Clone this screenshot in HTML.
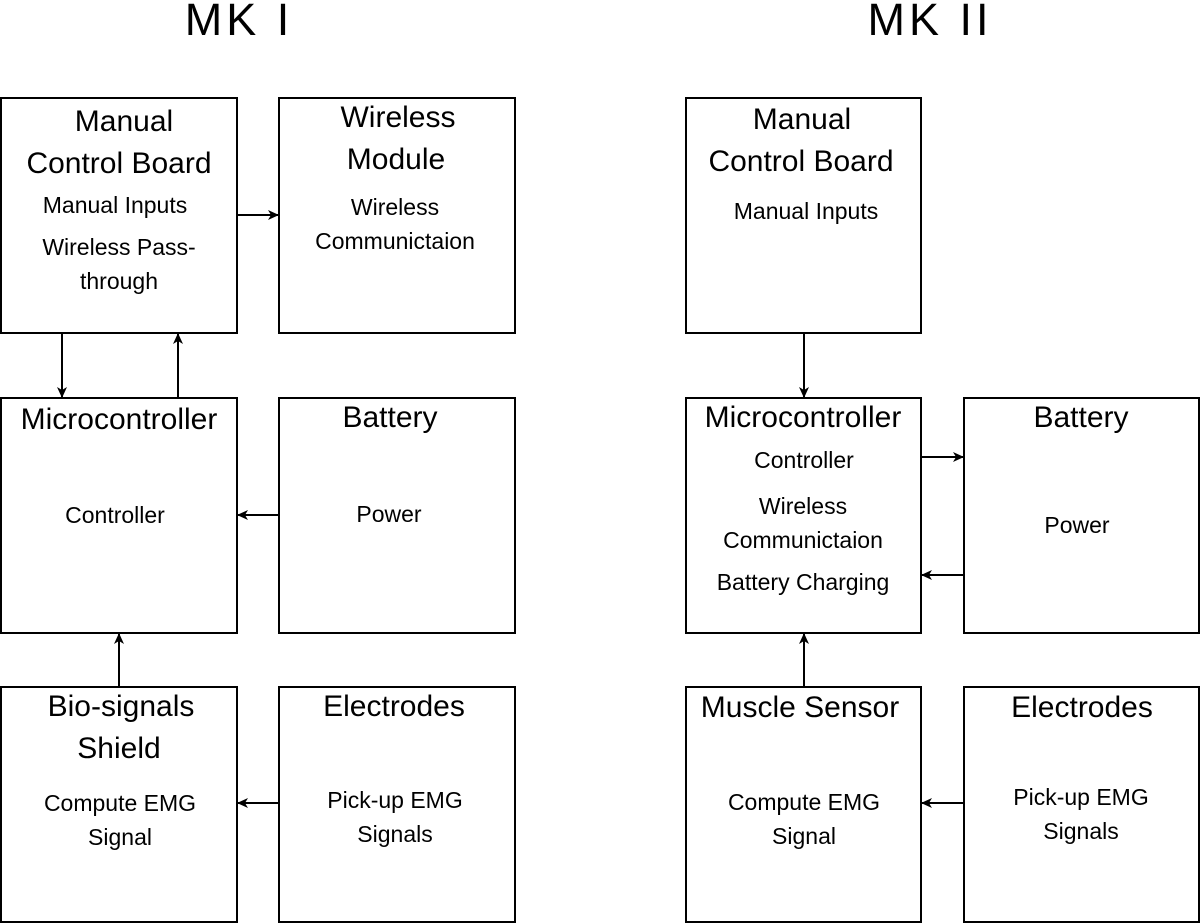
<!DOCTYPE html>
<html><head><meta charset="utf-8"><style>
html,body{margin:0;padding:0;background:#fff;}
svg{display:block;}
text{font-family:"Liberation Sans",Arial,sans-serif;fill:#000;text-anchor:middle;}
.t{font-size:30px;}
.b{font-size:23px;}
.h{font-size:45px;letter-spacing:4px;}
rect{fill:#fff;stroke:#000;stroke-width:2;}
line{stroke:#000;stroke-width:2;}
</style></head><body>
<svg width="1200" height="923" viewBox="0 0 1200 923">
<defs><marker id="a" markerWidth="12" markerHeight="12" refX="10" refY="5" orient="auto" markerUnits="userSpaceOnUse"><path d="M0,0 L11,5 L0,10 L3,5 Z" fill="#000"/></marker></defs>
<text class="h" x="239" y="35">MK I</text>
<text class="h" x="930" y="35">MK II</text>

<rect x="1" y="98" width="236" height="235"/>
<rect x="279" y="98" width="236" height="235"/>
<rect x="1" y="398" width="236" height="235"/>
<rect x="279" y="398" width="236" height="235"/>
<rect x="1" y="687" width="236" height="235"/>
<rect x="279" y="687" width="236" height="235"/>

<rect x="686" y="98" width="235" height="235"/>
<rect x="686" y="398" width="235" height="235"/>
<rect x="964" y="398" width="235" height="235"/>
<rect x="686" y="687" width="235" height="235"/>
<rect x="964" y="687" width="235" height="235"/>

<text class="t" x="124" y="131">Manual</text>
<text class="t" x="119" y="173">Control Board</text>
<text class="b" x="115" y="213">Manual Inputs</text>
<text class="b" x="119" y="255">Wireless Pass-</text>
<text class="b" x="119" y="289">through</text>
<text class="t" x="398" y="127">Wireless</text>
<text class="t" x="396" y="169">Module</text>
<text class="b" x="395" y="215">Wireless</text>
<text class="b" x="395" y="249">Communictaion</text>
<text class="t" x="119" y="429">Microcontroller</text>
<text class="b" x="115" y="523">Controller</text>
<text class="t" x="390" y="427">Battery</text>
<text class="b" x="389" y="522">Power</text>
<text class="t" x="121" y="716">Bio-signals</text>
<text class="t" x="119" y="758">Shield</text>
<text class="b" x="120" y="811">Compute EMG</text>
<text class="b" x="120" y="845">Signal</text>
<text class="t" x="394" y="716">Electrodes</text>
<text class="b" x="395" y="808">Pick-up EMG</text>
<text class="b" x="395" y="842">Signals</text>

<text class="t" x="802" y="129">Manual</text>
<text class="t" x="801" y="171">Control Board</text>
<text class="b" x="806" y="219">Manual Inputs</text>
<text class="t" x="803" y="427">Microcontroller</text>
<text class="b" x="804" y="468">Controller</text>
<text class="b" x="803" y="514">Wireless</text>
<text class="b" x="803" y="548">Communictaion</text>
<text class="b" x="803" y="590">Battery Charging</text>
<text class="t" x="1081" y="427">Battery</text>
<text class="b" x="1077" y="533">Power</text>
<text class="t" x="800" y="717">Muscle Sensor</text>
<text class="b" x="804" y="810">Compute EMG</text>
<text class="b" x="804" y="844">Signal</text>
<text class="t" x="1082" y="717">Electrodes</text>
<text class="b" x="1081" y="805">Pick-up EMG</text>
<text class="b" x="1081" y="839">Signals</text>

<line x1="237" y1="215" x2="278" y2="215" marker-end="url(#a)"/>
<line x1="62" y1="333" x2="62" y2="397" marker-end="url(#a)"/>
<line x1="178" y1="397" x2="178" y2="334" marker-end="url(#a)"/>
<line x1="279" y1="515" x2="238" y2="515" marker-end="url(#a)"/>
<line x1="119" y1="687" x2="119" y2="634" marker-end="url(#a)"/>
<line x1="279" y1="803" x2="238" y2="803" marker-end="url(#a)"/>

<line x1="804" y1="333" x2="804" y2="397" marker-end="url(#a)"/>
<line x1="921" y1="457" x2="963" y2="457" marker-end="url(#a)"/>
<line x1="964" y1="575" x2="922" y2="575" marker-end="url(#a)"/>
<line x1="804" y1="687" x2="804" y2="634" marker-end="url(#a)"/>
<line x1="964" y1="803" x2="922" y2="803" marker-end="url(#a)"/>
</svg>
</body></html>
